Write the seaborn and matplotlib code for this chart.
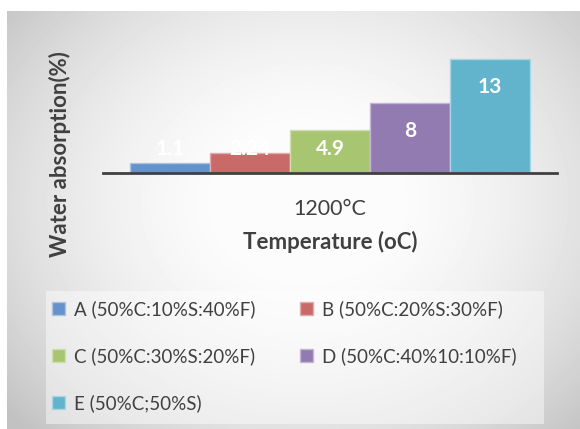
import numpy as np
import pandas as pd
import matplotlib
matplotlib.use("Agg")
import matplotlib.pyplot as plt
import seaborn as sns
from matplotlib.patches import Patch, Rectangle
from matplotlib.colors import to_rgb

# Data
temperatures = ["1200°C"]
mixes = ["A (50%C:10%S:40%F)", "B (50%C:20%S:30%F)", "C (50%C:30%S:20%F)",
         "D (50%C:40%10:10%F)", "E (50%C;50%S)"]
absorption = [1.1, 2.24, 4.9, 8, 13]
value_labels = ["1.1", "2.24", "4.9", "8", "13"]
bar_colors = ["#6592C8", "#C96A68", "#A8C571", "#927BB0", "#62B4CC"]

df = pd.DataFrame({"temp": temperatures * len(mixes), "mix": mixes, "value": absorption})

sns.set_theme(style="white")
plt.rcParams["font.family"] = ["Lato", "DejaVu Sans"]

W, H = 580, 429
fig = plt.figure(figsize=(W / 100, H / 100), dpi=100)
fig.patch.set_facecolor("white")


def tint(c, k=0.45):
    return tuple(min(1, v + (1 - v) * k) for v in to_rgb(c))


# Radial grey-to-white chart area background
fx0, fy0 = 7, 11
bg = fig.add_axes([fx0 / W, 0, 1 - fx0 / W, (H - fy0) / H], zorder=-10)
gh, gw = H - fy0, W - fx0
yy, xx = np.mgrid[0:gh, 0:gw]
r2 = ((xx - 300) / 300.0) ** 2 + ((yy - 190) / 250.0) ** 2
shade = np.clip(1.0 - 0.14 * r2, 0.76, 0.985)
bg.imshow(shade, cmap="gray", vmin=0, vmax=1, aspect="auto", interpolation="bilinear")
bg.set_axis_off()

# Plot area
px_per_unit = 8.77
ymax = 14
ax_left, ax_right, ax_base = 103, 557, 173
ax_h = ymax * px_per_unit
ax = fig.add_axes([ax_left / W, (H - ax_base) / H, (ax_right - ax_left) / W, ax_h / H])
ax.patch.set_alpha(0)

sns.barplot(data=df, x="temp", y="value", hue="mix", hue_order=mixes,
            palette=bar_colors, width=0.88, saturation=1, legend=False, ax=ax)

for patch, c in zip(ax.patches, bar_colors):
    patch.set_edgecolor(tint(c))
    patch.set_linewidth(1.0)

ax.set_xlim(-0.5, 0.5)
ax.set_ylim(0, ymax)

# Value labels inside bar tops
for patch, v, lab in zip(ax.patches, absorption, value_labels):
    cx = patch.get_x() + patch.get_width() / 2
    y = max(v - 3.2, 2.75)
    ax.text(cx, y, lab, ha="center", va="center", color="white",
            fontsize=15, fontweight="bold")

for s in ["top", "right", "left"]:
    ax.spines[s].set_visible(False)
ax.spines["bottom"].set_color("#404040")
ax.spines["bottom"].set_linewidth(2.0)
ax.set_yticks([])
ax.set_xticks([0])
ax.set_xticklabels(temperatures, fontsize=15.5, color="#404040")
ax.tick_params(axis="x", which="major", length=0, pad=19)
ax.set_xticks([-0.5, 0.5], minor=True)
ax.tick_params(axis="x", which="minor", length=5, width=2.0, color="#404040", direction="out")
ax.set_xlabel("")
ax.set_ylabel("")

fig.text(330 / W, 1 - 242 / H, "Temperature (oC)", ha="center", va="center",
         fontsize=16, fontweight="bold", color="#404040")
fig.text(60 / W, 1 - 154 / H, "Water absorption(%)", ha="center", va="center",
         rotation=90, fontsize=16, fontweight="bold", color="#404040")

# Legend box
lx0, ly0, lx1, ly1 = 46, 291, 544, 424
fig.patches.append(Rectangle((lx0 / W, 1 - ly1 / H), (lx1 - lx0) / W, (ly1 - ly0) / H,
                             transform=fig.transFigure, facecolor="white", alpha=0.45,
                             edgecolor="none", zorder=0))
handles = [Patch(facecolor=c, edgecolor=tint(c), linewidth=1.0) for c in bar_colors]
order = [0, 2, 4, 1, 3]
fig.legend([handles[i] for i in order], [mixes[i] for i in order],
           ncol=2, frameon=False, loc="upper left",
           bbox_to_anchor=(52 / W, 1 - 300 / H), fontsize=13.5,
           handlelength=0.7, handleheight=0.7, handletextpad=0.45,
           columnspacing=2.4, labelspacing=1.55, labelcolor="#404040",
           borderaxespad=0, borderpad=0)

fig.savefig("out.png", dpi=100)
